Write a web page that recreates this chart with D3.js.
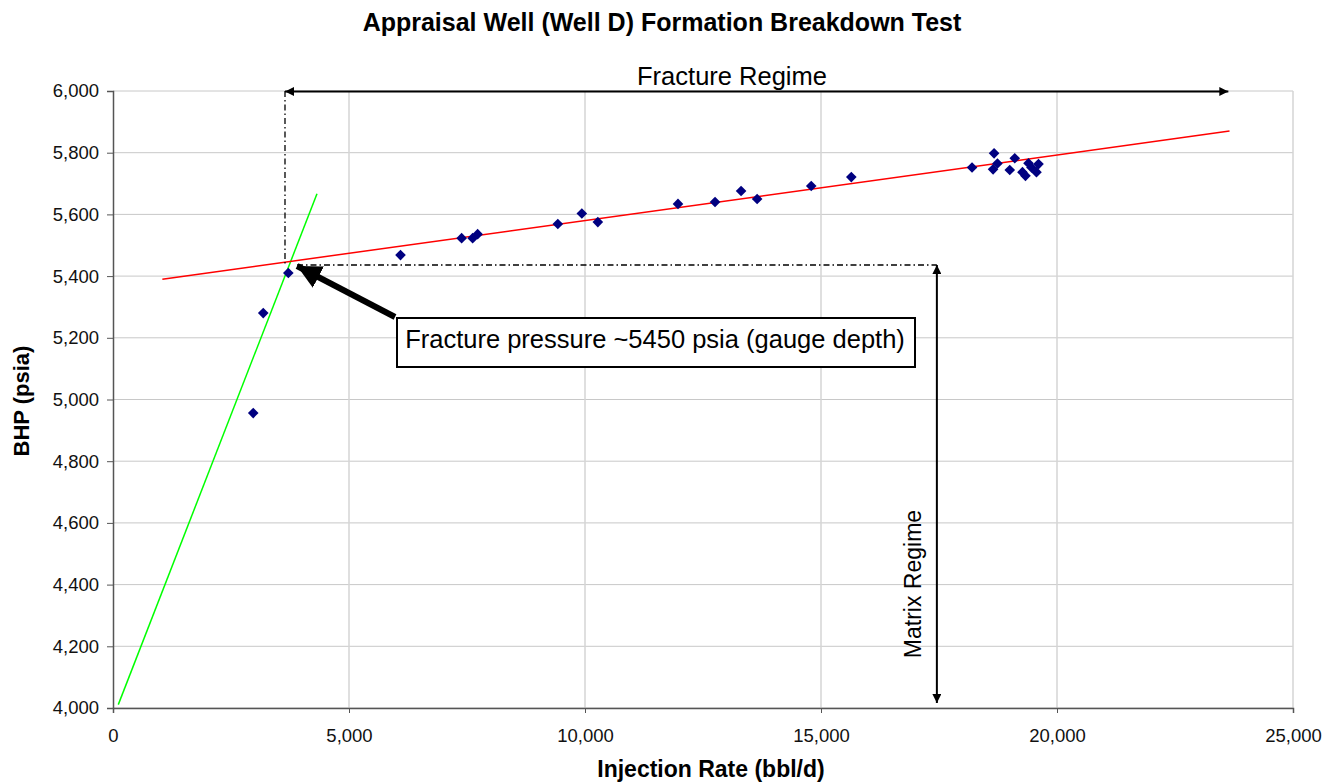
<!DOCTYPE html>
<html>
<head>
<meta charset="utf-8">
<script src="https://cdn.jsdelivr.net/npm/d3@7"></script>
<style>
  body { margin: 0; background: #fff; }
  svg { font-family: Arial, "Liberation Sans", sans-serif; }
</style>
</head>
<body>
<div id="area"></div>
<script>
// measured points: injection rate vs bottom hole pressure
var rateData = [2971, 3183, 3714, 6091, 7386, 7620, 7725, 9424, 9933, 10272, 11970, 12755, 13307, 13647, 14793, 15642,
                18200, 18667, 18646, 18738, 18999, 19105, 19268, 19332, 19396, 19459, 19565, 19608];
var bhpData = [4956, 5280, 5410, 5468, 5523, 5523, 5536, 5569, 5603, 5575, 5634, 5640, 5676, 5650, 5692, 5721,
               5752, 5798, 5746, 5765, 5744, 5782, 5737, 5725, 5766, 5752, 5737, 5763];

// trend lines (start / end)
var matrixLineX = [112, 4322],  matrixLineY = [4011, 5667];
var fracLineX = [1045, 23655],  fracLineY = [5390, 5870];

var xTicks = [0, 5000, 10000, 15000, 20000, 25000];
var yTicks = [4000, 4200, 4400, 4600, 4800, 5000, 5200, 5400, 5600, 5800, 6000];

var width = 1338, height = 782;
var margin = {left: 113, right: 45, top: 91, bottom: 74};

var svg = d3.select('#area').append('svg')
    .attr('width', width).attr('height', height);

var x = d3.scaleLinear().domain([0, 25000]).range([margin.left, width - margin.right]);
var y = d3.scaleLinear().domain([4000, 6000]).range([height - margin.bottom, margin.top]);

var fmt = d3.format(',');

// arrow markers
var defs = svg.append('defs');
defs.append('marker')
    .attr('id', 'tri').attr('viewBox', '0 0 10 10')
    .attr('refX', 10).attr('refY', 5)
    .attr('markerWidth', 5).attr('markerHeight', 4.5)
    .attr('markerUnits', 'strokeWidth')
    .attr('orient', 'auto-start-reverse')
    .append('path').attr('d', 'M0,0 L10,5 L0,10 Z').attr('fill', '#000');
defs.append('marker')
    .attr('id', 'bigTri').attr('viewBox', '0 0 10 10')
    .attr('refX', 10).attr('refY', 5)
    .attr('markerWidth', 4).attr('markerHeight', 4)
    .attr('markerUnits', 'strokeWidth')
    .attr('orient', 'auto')
    .append('path').attr('d', 'M0,0 L10,5 L0,10 Z').attr('fill', '#000');

// gridlines
svg.append('g').selectAll('line').data(yTicks).enter().append('line')
    .attr('x1', x(0)).attr('x2', x(25000))
    .attr('y1', function(d) { return y(d); }).attr('y2', function(d) { return y(d); })
    .attr('stroke', '#c8c8c8').attr('stroke-width', 1);
svg.append('g').selectAll('line').data(xTicks.slice(1)).enter().append('line')
    .attr('x1', function(d) { return x(d); }).attr('x2', function(d) { return x(d); })
    .attr('y1', y(4000)).attr('y2', y(6000))
    .attr('stroke', '#d4d4d4').attr('stroke-width', 1.5);

// axes
var xAxis = svg.append('g')
    .attr('transform', 'translate(0,' + y(4000) + ')')
    .call(d3.axisBottom(x).tickValues(xTicks).tickFormat(fmt).tickSize(5).tickPadding(16));
var yAxis = svg.append('g')
    .attr('transform', 'translate(' + x(0) + ',0)')
    .call(d3.axisLeft(y).tickValues(yTicks).tickFormat(fmt).tickSize(6).tickPadding(8));
[xAxis, yAxis].forEach(function(a) {
  a.select('.domain').attr('stroke', '#555').attr('stroke-width', 1.5);
  a.selectAll('.tick line').attr('stroke', '#555');
  a.selectAll('.tick text').attr('font-size', '18.5px').attr('fill', '#111')
    .attr('font-family', 'Arial, "Liberation Sans", sans-serif');
});

// trend lines
var line = d3.line().x(function(d) { return x(d[0]); }).y(function(d) { return y(d[1]); });
svg.append('path').datum(d3.zip(matrixLineX, matrixLineY))
    .attr('d', line).attr('stroke', '#00ff00').attr('stroke-width', 1.5).attr('fill', 'none');
svg.append('path').datum(d3.zip(fracLineX, fracLineY))
    .attr('d', line).attr('stroke', '#ff0000').attr('stroke-width', 1.5).attr('fill', 'none');

// dash-dot guide lines
var fracP = 5436, fracQ = 3644, matrixEdge = 17455;
svg.append('line')
    .attr('x1', x(fracQ)).attr('x2', x(fracQ)).attr('y1', y(6000)).attr('y2', y(fracP))
    .attr('stroke', '#000').attr('stroke-width', 1.3).attr('stroke-dasharray', '6,3,1.5,3');
svg.append('line')
    .attr('x1', x(fracQ) + 12).attr('x2', x(matrixEdge)).attr('y1', y(fracP)).attr('y2', y(fracP))
    .attr('stroke', '#000').attr('stroke-width', 1.3).attr('stroke-dasharray', '6,3,1.5,3');

// data points
svg.append('g').selectAll('path').data(d3.zip(rateData, bhpData)).enter().append('path')
    .attr('d', d3.symbol().type(d3.symbolDiamond2).size(72))
    .attr('transform', function(d) { return 'translate(' + x(d[0]) + ',' + y(d[1]) + ')'; })
    .attr('fill', '#000080');

// regime arrows
svg.append('line')
    .attr('x1', x(fracQ)).attr('x2', x(23630)).attr('y1', y(6000) + 0.5).attr('y2', y(6000) + 0.5)
    .attr('stroke', '#000').attr('stroke-width', 2)
    .attr('marker-start', 'url(#tri)').attr('marker-end', 'url(#tri)');
svg.append('line')
    .attr('x1', x(matrixEdge)).attr('x2', x(matrixEdge)).attr('y1', y(fracP)).attr('y2', y(4016))
    .attr('stroke', '#000').attr('stroke-width', 2)
    .attr('marker-start', 'url(#tri)').attr('marker-end', 'url(#tri)');

svg.append('text')
    .attr('x', 732).attr('y', 85)
    .attr('text-anchor', 'middle').attr('font-size', '25.5px')
    .text('Fracture Regime');
svg.append('text')
    .attr('transform', 'translate(921,584) rotate(-90)')
    .attr('text-anchor', 'middle').attr('font-size', '23px')
    .text('Matrix Regime');

// callout
var boxX0 = 397, boxY0 = 318, boxX1 = 915, boxY1 = 367;
svg.append('line')
    .attr('x1', boxX0 - 2).attr('y1', boxY0 - 1)
    .attr('x2', x(3900)).attr('y2', y(fracP) + 1)
    .attr('stroke', '#000').attr('stroke-width', 6)
    .attr('marker-end', 'url(#bigTri)');
svg.append('rect')
    .attr('x', boxX0).attr('y', boxY0)
    .attr('width', boxX1 - boxX0).attr('height', boxY1 - boxY0)
    .attr('fill', '#fff').attr('stroke', '#000').attr('stroke-width', 2);
svg.append('text')
    .attr('x', 655).attr('y', 348)
    .attr('text-anchor', 'middle').attr('font-size', '25.5px')
    .text('Fracture pressure ~5450 psia (gauge depth)');

// titles
svg.append('text')
    .attr('x', 662).attr('y', 31)
    .attr('text-anchor', 'middle').attr('font-size', '25px').attr('font-weight', 'bold')
    .text('Appraisal Well (Well D) Formation Breakdown Test');
svg.append('text')
    .attr('x', 711).attr('y', 777)
    .attr('text-anchor', 'middle').attr('font-size', '23px').attr('font-weight', 'bold')
    .text('Injection Rate (bbl/d)');
svg.append('text')
    .attr('transform', 'translate(29,401) rotate(-90)')
    .attr('text-anchor', 'middle').attr('font-size', '22px').attr('font-weight', 'bold')
    .text('BHP (psia)');
</script>
</body>
</html>
